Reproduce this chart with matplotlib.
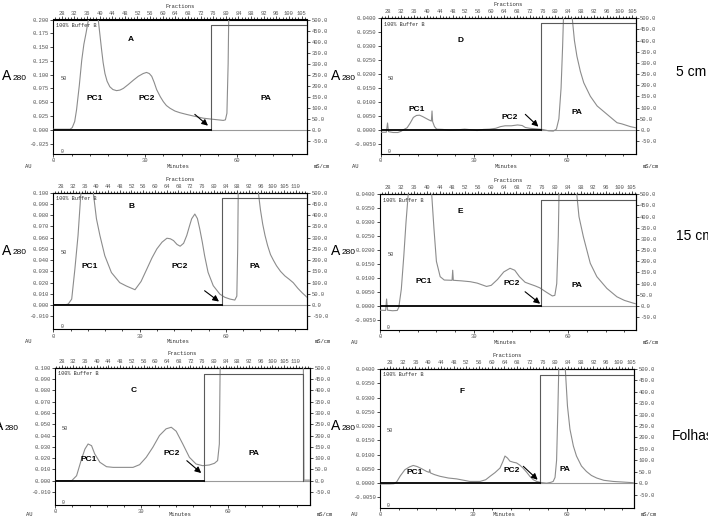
import matplotlib
matplotlib.use("Agg")
import matplotlib.pyplot as plt
from matplotlib.ticker import MultipleLocator, FixedLocator, FuncFormatter

W, H = 708, 520
MONO = ["Liberation Mono", "DejaVu Sans Mono"]
SANS = ["Liberation Sans", "DejaVu Sans"]
TRACE = "#8c8c8c"
STEP = "#5a5a5a"
TXT = "#555555"

# fraction tick labels on the top axis
frac_20 = ["28", "32", "36", "40", "44", "48", "52", "56", "60", "64", "68",
           "72", "76", "80", "84", "88", "92", "96", "100", "105"]
frac_21 = frac_20 + ["110"]

# A280 traces (minutes, AU); values above the frame leave the top
a_min = [0, 3, 5.5, 6.2, 7, 7.6, 8.5, 9.3, 10, 10.7, 11.5, 12.2, 14, 14.7, 15.3, 15.8, 16.3,
         16.9, 17.6, 18.5, 19.5, 20.7, 21.8, 22.9, 24.5, 26.2, 27.8, 29.4, 30.5, 31.4, 32.2,
         33, 33.8, 35, 36, 37, 38.2, 39.8, 41.4, 43.5, 45.8, 47.5, 49.1, 50.7, 52.3, 54,
         55.6, 56.3, 56.8, 57.2, 57.5]
a_au = [0.001, 0.001, 0.001, 0.004, 0.015, 0.036, 0.08, 0.126, 0.155, 0.175, 0.2, 0.23,
        0.23, 0.2, 0.17, 0.145, 0.122, 0.102, 0.088, 0.078, 0.073, 0.071, 0.072, 0.075,
        0.082, 0.09, 0.097, 0.102, 0.104, 0.102, 0.097, 0.086, 0.073, 0.06, 0.051, 0.044,
        0.039, 0.034, 0.031, 0.028, 0.025, 0.023, 0.021, 0.02, 0.019, 0.018, 0.017, 0.018,
        0.03, 0.12, 0.25]

b_min = [0, 4.5, 5.2, 6.4, 7.5, 8.6, 9.6, 10.2, 13.3, 13.9, 15, 16.2, 17.9, 20.2, 23.1,
         25.4, 28.4, 30.5, 32.5, 34.3, 36, 37.8, 39.5, 40.7, 41.8, 43, 44.1, 45.3, 46.4,
         47.3, 48.1, 49.2, 50.1, 50.9, 51.8, 52.6, 53.8, 55.6, 57.9, 59.6, 61.4, 63.1,
         63.8, 64.1, 64.4, 70.8, 71.3, 72, 72.8, 73.6, 74.5, 75.5, 76.5, 77.6, 79, 80.5,
         82, 83.4, 85, 86.5, 88.2]
b_au = [0.0005, 0.0005, 0.001, 0.0054, 0.032, 0.062, 0.1, 0.13, 0.13, 0.1, 0.0768, 0.062,
        0.044, 0.029, 0.02, 0.017, 0.0137, 0.021, 0.032, 0.042, 0.05, 0.056, 0.0595, 0.059,
        0.0574, 0.054, 0.0524, 0.055, 0.062, 0.07, 0.0768, 0.081, 0.077, 0.0679, 0.056,
        0.044, 0.0292, 0.0173, 0.0098, 0.007, 0.0054, 0.0045, 0.008, 0.05, 0.13, 0.13, 0.1,
        0.085, 0.072, 0.062, 0.053, 0.045, 0.04, 0.035, 0.03, 0.026, 0.023, 0.02, 0.015,
        0.011, 0.007]

c_min = [0, 5.8, 7.5, 9.2, 10.4, 11.5, 12.7, 13.8, 15.6, 17.9, 20.2, 27.1, 29.4, 31.7, 34,
         36.3, 38.6, 40.4, 42.1, 44.4, 46.7, 49, 51.3, 53.6, 55.4, 56.5, 57.1, 57.5, 86.2,
         86.3, 86.5, 88.6]
c_au = [0, 0, 0.0044, 0.019, 0.028, 0.0325, 0.031, 0.0237, 0.0163, 0.0124, 0.0118, 0.0118,
        0.0142, 0.0207, 0.0296, 0.04, 0.0459, 0.0473, 0.0438, 0.0325, 0.0207, 0.0148,
        0.0133, 0.0139, 0.0154, 0.0178, 0.0325, 0.13, 0.13, 0.1, 0.0005, 0.0005]

d_min = [0, 1.8, 2.2, 2.5, 4, 5.5, 6.5, 7.5, 8.5, 9.5, 10.5, 11.5, 12.5, 13.5, 14.5, 15.5,
         16.3, 16.5, 16.7, 17.3, 18, 20, 22, 25, 27, 29, 31, 33, 35, 37, 38.5, 40, 42, 44,
         45.5, 46.5, 48, 50, 52, 54, 55.5, 56.5, 57.3, 58, 58.5, 58.9, 61.2, 61.6, 62.3,
         63.1, 64.2, 65.3, 67.4, 69.6, 72.8, 76, 77.5, 80.3, 82]
d_au = [-0.0008, -0.0008, 0.0025, -0.0006, -0.0009, -0.0009, -0.0005, 0.0002, 0.0008,
        0.0025, 0.0045, 0.0052, 0.0053, 0.0048, 0.0042, 0.0036, 0.0032, 0.0068, 0.003,
        0.0012, 0.0003, 0.0002, -0.0001, 0.0001, 0.0003, 0.0001, -0.0002, 0.0002, 0.0003,
        0.0006, 0.0012, 0.0015, 0.0015, 0.0018, 0.0016, 0.0009, 0.0006, 0.0004, 0.0002,
        -0.0003, -0.0004, 0.0003, 0.004, 0.015, 0.03, 0.045, 0.045, 0.04, 0.032, 0.0264,
        0.021, 0.0169, 0.0121, 0.0086, 0.0056, 0.0026, 0.0022, 0.0012, 0.0008]

e_min = [0, 1.8, 2.1, 2.4, 4, 5.5, 6, 6.8, 7.6, 8.3, 9, 9.4, 16.1, 16.5, 17.2, 18, 19.2,
         20.5, 23, 23.2, 23.4, 26, 28.8, 31, 33, 34, 35.5, 37.5, 39.5, 41.5, 43, 44.5, 46.3,
         48, 49.5, 51, 53, 55, 55.8, 56.4, 56.9, 57.2, 62.5, 62.8, 63.5, 64.9, 67.1, 69.2,
         72.4, 75.6, 78, 80.9, 81.6]
e_au = [-0.0015, -0.0016, 0.0025, -0.0015, -0.0017, -0.0016, -0.0005, 0.006, 0.018, 0.03,
        0.04, 0.05, 0.05, 0.04, 0.028, 0.016, 0.0105, 0.0093, 0.0092, 0.0128, 0.0092, 0.009,
        0.0087, 0.0082, 0.0074, 0.007, 0.0074, 0.0095, 0.0122, 0.0135, 0.0128, 0.0105,
        0.0085, 0.0078, 0.0072, 0.0065, 0.005, 0.0036, 0.0038, 0.008, 0.025, 0.045, 0.045,
        0.04, 0.032, 0.0248, 0.0153, 0.0105, 0.0063, 0.0033, 0.002, 0.001, 0.0008]

f_min = [0, 3, 4.5, 5.4, 6.5, 8, 9.5, 10.7, 12, 13.5, 15, 15.8, 16, 16.2, 17.5, 19.3, 22,
         24.6, 27, 28.9, 32.2, 34, 35.4, 37, 38.6, 39.5, 40.2, 41, 41.8, 43, 43.9, 45, 46,
         47.2, 48.2, 49.3, 50.4, 52, 53.6, 55, 55.7, 56.3, 56.8, 57.2, 57.6, 59.3, 59.6,
         60.3, 61.1, 62.2, 63.2, 64.8, 66.4, 68, 69.7, 72, 75, 78, 80.9, 81.7]
f_au = [-0.0003, -0.0003, -0.0002, 0.0005, 0.0025, 0.0047, 0.0057, 0.0062, 0.0058, 0.005,
        0.0041, 0.0038, 0.0048, 0.0036, 0.003, 0.0024, 0.0018, 0.0015, 0.001, 0.0006,
        0.0006, 0.0012, 0.0024, 0.0037, 0.0053, 0.0075, 0.0095, 0.0088, 0.0077, 0.0073,
        0.0071, 0.0063, 0.0053, 0.0038, 0.0024, 0.0012, 0.0006, 0.0002, 0.0, 0.0003,
        0.0006, 0.002, 0.008, 0.025, 0.045, 0.045, 0.04, 0.027, 0.0189, 0.013, 0.0095,
        0.006, 0.0041, 0.0027, 0.0018, 0.001, 0.0006, 0.0004, 0.0002, 0.0001]

# conductivity step (min, mS/cm) and the end of the run for C
step_min = [51.5, 58.5, 51.7, 51.5, 51.3, 51.4]
step_ms = [473, 476, 474, 477, 475, 474]
step_end = [None, None, 86.2, None, None, None]

panels = [
    dict(name="A", t=a_min, au=a_au, top=0.2, dy=0.025, fmt="%.3f", xmax=83,
         box=(53.3, 19.5, 307, 153.5), frac=frac_20, f0=2.75, fs=4.13,
         lab=[("A", 25.4, 0.164), ("PC1", 13.7, 0.057), ("PC2", 30.5, 0.057), ("PA", 69.6, 0.057)],
         arr=((46.3, 0.028), (50.6, 0.0075))),
    dict(name="B", t=b_min, au=b_au, top=0.1, dy=0.01, fmt="%.3f", xmax=88.3,
         box=(53.3, 192.7, 307.3, 329.3), frac=frac_21, f0=2.7, fs=4.08,
         lab=[("B", 27.2, 0.088), ("PC1", 12.8, 0.0345), ("PC2", 44, 0.0345), ("PA", 70, 0.0345)],
         arr=((52.6, 0.0128), (57.6, 0.0032))),
    dict(name="C", t=c_min, au=c_au, top=0.1, dy=0.01, fmt="%.3f", xmax=88.6,
         box=(55, 367.7, 310, 505), frac=frac_21, f0=2.3, fs=4.07,
         lab=[("C", 27.2, 0.08), ("PC1", 11.6, 0.019), ("PC2", 40.6, 0.0237), ("PA", 69, 0.0237)],
         arr=((45.8, 0.0177), (50.8, 0.0068))),
    dict(name="D", t=d_min, au=d_au, top=0.04, dy=0.005, fmt="%.4f", xmax=82,
         box=(380.7, 18.3, 635.7, 154), frac=frac_20, f0=2.45, fs=4.13,
         lab=[("D", 25.8, 0.0321), ("PC1", 11.7, 0.0074), ("PC2", 41.6, 0.0044), ("PA", 63.1, 0.0062)],
         arr=((46.5, 0.0056), (50.7, 0.0012))),
    dict(name="E", t=e_min, au=e_au, top=0.04, dy=0.005, fmt="%.4f", xmax=81.6,
         box=(380, 194.3, 635.7, 330), frac=frac_20, f0=2.65, fs=4.09,
         lab=[("E", 25.6, 0.0338), ("PC1", 13.8, 0.0089), ("PC2", 42, 0.0081), ("PA", 62.8, 0.0075)],
         arr=((46.3, 0.0051), (51.1, 0.0008))),
    dict(name="F", t=f_min, au=f_au, top=0.04, dy=0.005, fmt="%.4f", xmax=81.7,
         box=(380, 369, 634, 507.7), frac=frac_20, f0=3.2, fs=4.09,
         lab=[("F", 26.3, 0.0322), ("PC1", 11.3, 0.0036), ("PC2", 42.3, 0.0045), ("PA", 59.5, 0.0047)],
         arr=((46.1, 0.0059), (50.7, 0.0012))),
]

side_labels = [("5 cm", 676, 72), ("15 cm", 676, 236), ("Folhas", 672, 436)]
a280_pos = [(7, 76), (336, 76), (7, 251), (336, 251), (-1, 426), (336, 426)]


def fig_box(l, t, r, b):
    return [l / W, 1 - b / H, (r - l) / W, (b - t) / H]


fig = plt.figure(figsize=(W / 100, H / 100), dpi=100)
fig.patch.set_facecolor("white")

for i, p in enumerate(panels):
    ax = fig.add_axes(fig_box(*p["box"]))
    top = p["top"]
    bot = -0.215 * top
    ax.set_xlim(0, p["xmax"])
    ax.set_ylim(bot, top)
    k = 500.0 / top

    ax.plot(p["t"], p["au"], color=TRACE, lw=0.8, zorder=3)

    ts, cs = step_min[i], step_ms[i] / k
    if step_end[i] is None:
        ax.plot([ts, ts, p["xmax"]], [0, cs, cs], color=STEP, lw=0.8, zorder=4)
    else:
        te = step_end[i]
        ax.plot([ts, ts, te, te], [0, cs, cs, 0], color=STEP, lw=0.8, zorder=4)
    ax.plot([ts, p["xmax"]], [0, 0], color="#9a9a9a", lw=0.8, zorder=2)
    ax.plot([0, ts], [0, 0], color="black", lw=1.3, zorder=5)

    (x0, y0), (x1, y1) = p["arr"]
    ax.annotate("", xy=(x1, y1), xytext=(x0, y0),
                arrowprops=dict(arrowstyle="-|>", color="black", lw=0.8,
                                mutation_scale=9, shrinkA=0, shrinkB=0), zorder=6)

    for txt, lx, ly in p["lab"]:
        ax.text(lx, ly, txt, ha="center", va="center", fontsize=6, fontweight="bold",
                family=SANS, zorder=7)

    ax.text(0.012, 0.975, "100% Buffer B", transform=ax.transAxes, ha="left", va="top",
            fontsize=3.8, family=MONO, color="#333333")
    ax.text(0.028, 0.56, "50", transform=ax.transAxes, ha="left", va="center",
            fontsize=3.8, family=MONO, color="#444444")
    ax.text(0.028, 0.0, "0", transform=ax.transAxes, ha="left", va="bottom",
            fontsize=3.5, family=MONO, color="#444444")

    # left AU axis
    n = int(round(top / p["dy"]))
    ax.yaxis.set_major_locator(FixedLocator([j * p["dy"] for j in range(-1, n + 1)]))
    fmt = p["fmt"]
    ax.yaxis.set_major_formatter(FuncFormatter(lambda v, _, f=fmt: f % (0.0 if abs(v) < 1e-9 else v)))
    ax.xaxis.set_major_locator(FixedLocator([0, 30, 60]))
    ax.xaxis.set_minor_locator(MultipleLocator(6))
    ax.tick_params(axis="both", which="both", direction="out", length=2, width=0.5,
                   labelsize=4, labelcolor=TXT, pad=1.2)
    ax.tick_params(axis="x", which="minor", length=1.5)
    for lab in ax.get_xticklabels() + ax.get_yticklabels():
        lab.set_family(MONO)

    # right mS/cm axis
    sec = ax.secondary_yaxis("right", functions=(lambda v, k=k: v * k, lambda v, k=k: v / k))
    sec.set_yticks([j * 50 for j in range(-1, 11)])
    sec.yaxis.set_major_formatter(FuncFormatter(lambda v, _: "%.1f" % v))
    sec.tick_params(direction="out", length=2, width=0.5, labelsize=4, labelcolor=TXT, pad=1.2)
    for lab in sec.get_yticklabels():
        lab.set_family(MONO)

    # top fractions axis
    topax = ax.secondary_xaxis("top")
    pos = [p["f0"] + j * p["fs"] for j in range(len(p["frac"]))]
    topax.set_xticks(pos, p["frac"])
    minor = [p["f0"] + j * p["fs"] / 4 for j in range(-2, 4 * len(p["frac"]) + 3)]
    topax.xaxis.set_minor_locator(FixedLocator([m for m in minor if 0 < m < p["xmax"]]))
    topax.tick_params(which="both", direction="out", length=2, width=0.5, labelsize=4,
                      labelcolor=TXT, pad=0.8)
    topax.tick_params(which="minor", length=1.5)
    for lab in topax.get_xticklabels():
        lab.set_family(MONO)

    for s in ax.spines.values():
        s.set_linewidth(0.8)
    sec.spines["right"].set_linewidth(0.8)
    topax.spines["top"].set_linewidth(0.8)

    l, t, r, b = p["box"]
    ylab_px = min(b + 12.5, 514.5)
    ylab = (b - ylab_px) / (b - t)
    ax.text(0.5, 1.1, "Fractions", transform=ax.transAxes, ha="center", va="center",
            fontsize=4, family=MONO, color="#333333")
    ax.text(0.49, ylab, "Minutes", transform=ax.transAxes, ha="center", va="center",
            fontsize=4, family=MONO, color="#333333")
    ax.text(-0.1, ylab, "AU", transform=ax.transAxes, ha="center", va="center",
            fontsize=4, family=MONO, color="#333333")
    ax.text(1.06, ylab, "mS/cm", transform=ax.transAxes, ha="center", va="center",
            fontsize=4, family=MONO, color="#333333")

for (x, y) in a280_pos:
    fig.text(x / W, 1 - y / H, "A", ha="center", va="center", fontsize=10, family=SANS)
    fig.text((x + 6) / W, 1 - (y + 2) / H, "280", ha="left", va="center", fontsize=6,
             family=SANS)

for txt, x, y in side_labels:
    fig.text(x / W, 1 - y / H, txt, ha="left", va="center", fontsize=10, family=SANS)

fig.savefig("out.png", dpi=100, facecolor="white")
